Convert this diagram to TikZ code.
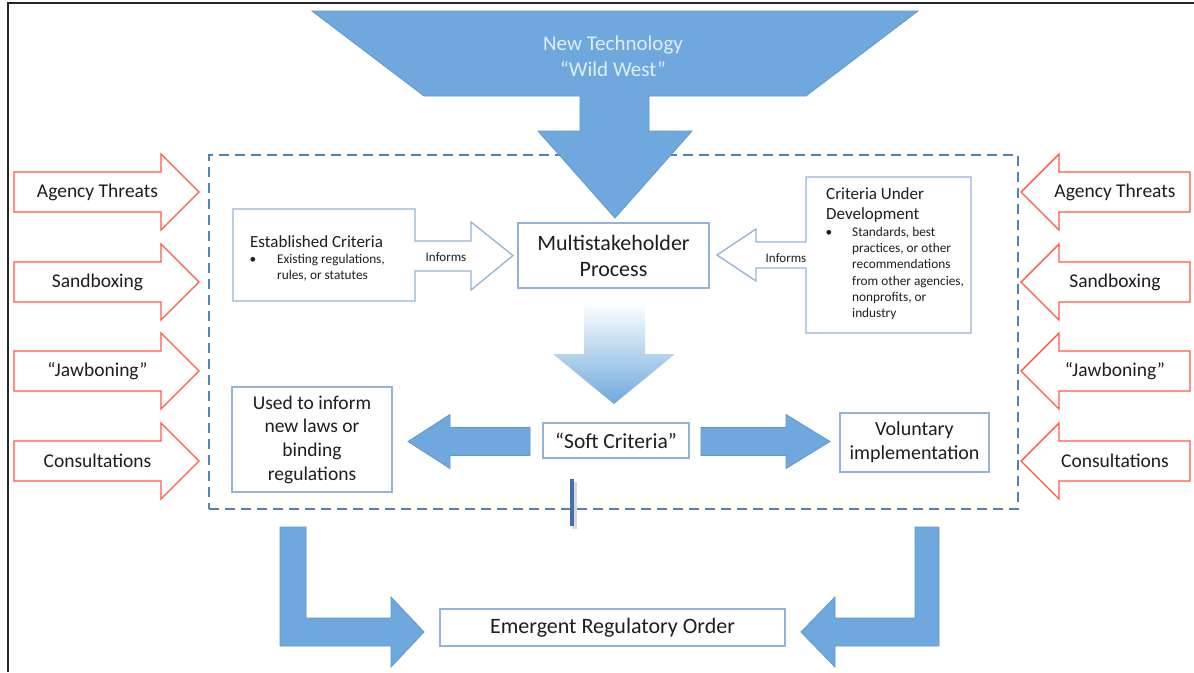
\documentclass[tikz,border=0pt]{standalone}
\usepackage{fontspec}
\setmainfont{Carlito}

\definecolor{flowblue}{RGB}{111,168,220}
\definecolor{flowedge}{RGB}{96,152,206}
\definecolor{boxline}{RGB}{149,179,215}
\definecolor{dashblue}{RGB}{84,130,178}
\definecolor{leverred}{RGB}{255,88,70}
\definecolor{funneltext}{RGB}{224,237,249}
\definecolor{barblue}{RGB}{70,112,172}
\definecolor{inkgray}{RGB}{30,30,30}

% font size helper: size and baseline skip in pt
\newcommand{\fsz}[2]{\fontsize{#1}{#2}\selectfont}

% horizontal block arrow:
% [style]{tail x}{head base x}{tip x}{centre y}{half body}{half head}
\newcommand{\hblock}[7][]{%
  \draw[#1] (#2,{#5-#6}) -- (#3,{#5-#6}) -- (#3,{#5-#7}) -- (#4,#5)
    -- (#3,{#5+#7}) -- (#3,{#5+#6}) -- (#2,{#5+#6}) -- cycle;}

\begin{document}
\begin{tikzpicture}[x=1pt,y=-1pt,
  frameline/.style={draw=black!85, line width=2.2pt},
  scopeline/.style={draw=dashblue, line width=2.5pt, dash pattern=on 10pt off 6pt},
  lever/.style={draw=leverred, fill=white, line width=1.4pt, line join=miter},
  flow/.style={fill=flowblue, draw=flowedge, line width=0.8pt, line join=miter},
  plainbox/.style={draw=boxline, fill=white, line width=1.3pt, inner sep=0pt},
  txt/.style={text=inkgray, inner sep=0pt},
  levertxt/.style={txt, font=\fsz{19.5}{23}},
  note/.style={txt, font=\fsz{13.3}{16.2}, align=left},
  crit/.style={txt, font=\fsz{17}{20}, align=left}]

\useasboundingbox (0,0) rectangle (1194,672);
\fill[white] (0,0) rectangle (1194,672);

% page frame (top and left rules)
\draw[frameline] (7,3) -- (1194,3);
\draw[frameline] (8,3) -- (8,672);

% dashed scope of the multistakeholder process
\node[scopeline, minimum width=809pt, minimum height=354pt, inner sep=0pt] (scope) at (613.5,332) {};

% funnel: new technology pouring into the process
\filldraw[flow] (312,11) -- (918,11) -- (806,96) -- (649,96) -- (649,131) -- (692,131)
  -- (615,218) -- (538,131) -- (580,131) -- (580,96) -- (424,96) -- cycle;
\node[txt, text=funneltext, font=\fsz{21}{26}, align=center] (tech) at (613,56)
  {New Technology\\“Wild West”};

% outside pressures, left
\hblock[lever]{14}{161}{199}{192}{20}{38}
\hblock[lever]{14}{161}{199}{282}{20}{38}
\hblock[lever]{14}{161}{199}{371}{20}{38}
\hblock[lever]{14}{161}{199}{461}{20}{38}
\node[levertxt] (lA) at (97.5,192) {Agency Threats};
\node[levertxt] (lS) at (97.5,282) {Sandboxing};
\node[levertxt] (lJ) at (97.5,371) {“Jawboning”};
\node[levertxt] (lC) at (97.5,461) {Consultations};

% outside pressures, right
\hblock[lever]{1190}{1059}{1021}{192}{20}{38}
\hblock[lever]{1190}{1059}{1021}{282}{20}{38}
\hblock[lever]{1190}{1059}{1021}{371}{20}{38}
\hblock[lever]{1190}{1059}{1021}{461}{20}{38}
\node[levertxt] (rA) at (1115,192) {Agency Threats};
\node[levertxt] (rS) at (1115,282) {Sandboxing};
\node[levertxt] (rJ) at (1115,371) {“Jawboning”};
\node[levertxt] (rC) at (1115,461) {Consultations};

% established criteria, box with "Informs" arrow
\draw[plainbox] (233,209) -- (415,209) -- (415,241) -- (471,241) -- (471,222)
  -- (513,255.5) -- (471,290) -- (471,271) -- (415,271) -- (415,301) -- (233,301) -- cycle;
\node[crit, anchor=west] (est) at (250,242) {Established Criteria};
\node[note] (estB) at (253,260) {\textbullet};
\node[note, anchor=west] (estL) at (277,268) {Existing regulations,\\rules, or statutes};
\node[txt, font=\fsz{13}{16}] (inf1) at (446,257) {Informs};

% criteria under development, box with "Informs" arrow
\draw[plainbox] (806,177) -- (971,177) -- (971,333) -- (806,333) -- (806,268) -- (756,268)
  -- (756,281) -- (717,255) -- (756,229) -- (756,242) -- (806,242) -- cycle;
\node[crit, anchor=west] (dev) at (826,205) {Criteria Under\\Development};
\node[note] (devB) at (829,233) {\textbullet};
\node[note, anchor=west] (devL) at (852,273.5)
  {Standards, best\\practices, or other\\recommendations\\from other agencies,\\nonprofits, or\\industry};
\node[txt, font=\fsz{13}{16}] (inf2) at (786,258) {Informs};

% the process itself
\node[plainbox, txt, minimum width=191pt, minimum height=65pt, font=\fsz{22}{26}, align=center]
  (msp) at (613.5,255.5) {Multistakeholder\\Process};

% process yields soft criteria
\shade[top color=white, bottom color=flowblue, middle color=flowblue!50]
  (584,302) -- (645,302) -- (645,354) -- (675,354) -- (614,404) -- (553,354) -- (584,354) -- cycle;
\node[plainbox, txt, minimum width=146pt, minimum height=35pt, font=\fsz{21.5}{25}]
  (soft) at (616,440.5) {“Soft Criteria”};

% outcomes of the soft criteria
\hblock[flow]{530}{450}{408}{441.5}{14}{27}
\hblock[flow]{701}{786}{830}{441.5}{14}{27}
\node[plainbox, txt, minimum width=160pt, minimum height=105pt, font=\fsz{19.5}{23.7}, align=center]
  (laws) at (312,439.5) {Used to inform\\new laws or\\binding\\regulations};
\node[plainbox, txt, minimum width=149pt, minimum height=59pt, font=\fsz{20}{24}, align=center]
  (vol) at (914.5,442.5) {Voluntary\\implementation};

% marker bar through the scope's lower edge
\draw[black!30, opacity=0.5, line width=5pt] (574,482) -- (574,529);
\draw[barblue, line width=4pt] (572,479) -- (572,526);

% both outcomes lead to the emergent order
\filldraw[flow] (280,527) -- (306,527) -- (306,618) -- (391,618) -- (391,597) -- (424,632)
  -- (391,667) -- (391,646) -- (280,646) -- cycle;
\filldraw[flow] (939,527) -- (915,527) -- (915,618) -- (835,618) -- (835,597) -- (801,632)
  -- (835,667) -- (835,646) -- (939,646) -- cycle;
\node[plainbox, txt, minimum width=345pt, minimum height=37pt, font=\fsz{22}{26}]
  (order) at (612.5,627.5) {Emergent Regulatory Order};

\end{tikzpicture}
\end{document}
